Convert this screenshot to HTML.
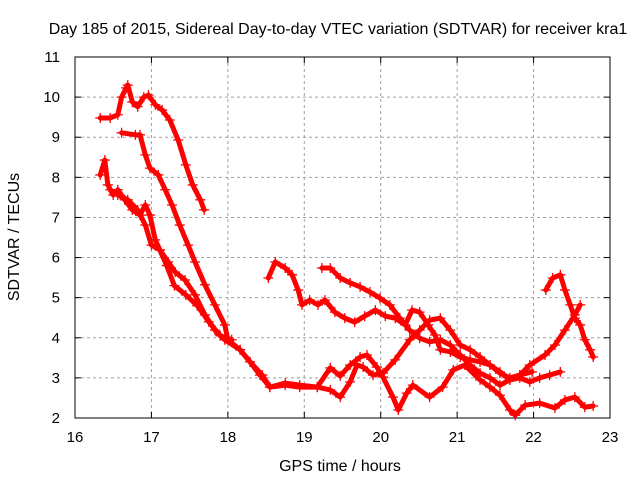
<!DOCTYPE html>
<html><head><meta charset="utf-8"><style>
body{margin:0;background:#fff;width:640px;height:480px;overflow:hidden}
svg text{font-family:"Liberation Sans",sans-serif;font-size:15px;fill:#000}
svg text.big{font-size:16px}
</style></head><body>
<svg id="chart" width="640" height="480" viewBox="0 0 640 480">
<text class="big" x="338" y="34" text-anchor="middle">Day 185 of 2015, Sidereal Day-to-day VTEC variation (SDTVAR) for receiver kra1</text>
<text class="big" x="340" y="471" text-anchor="middle">GPS time / hours</text>
<text class="big" transform="translate(19,237) rotate(-90)" text-anchor="middle">SDTVAR / TECUs</text>
<g id="grid"></g><g id="axes"></g><g id="series"></g>
</svg>
<script>
const xTicks=[16,17,18,19,20,21,22,23];
const yTicks=[2,3,4,5,6,7,8,9,10,11];
const s1h=[16.33,16.46,16.56,16.61,16.67,16.69,16.75,16.82,16.90,16.96,17.05,17.14,17.24,17.35,17.45,17.54,17.64,17.69];
const s1v=[9.48,9.48,9.56,10.0,10.23,10.30,9.88,9.76,10.0,10.05,9.81,9.68,9.43,8.93,8.31,7.81,7.44,7.19];
const s2h=[16.61,16.79,16.85,16.92,16.98,17.09,17.18,17.27,17.37,17.48,17.57,17.70,17.83,17.96,18.00,18.16,18.29,18.45,18.55,18.75,18.94,19.17,19.34,19.47,19.60,19.73,19.82,19.95,20.03,20.16,20.23,20.34,20.42,20.64,20.81,20.95,21.10,21.30,21.43,21.56,21.69,21.76,21.89,22.08,22.28,22.41,22.54,22.67,22.78];
const s2v=[9.11,9.06,9.06,8.56,8.23,8.06,7.69,7.31,6.81,6.31,5.89,5.32,4.82,4.32,3.95,3.70,3.40,3.07,2.77,2.87,2.82,2.77,3.25,3.05,3.32,3.52,3.57,3.27,3.02,2.52,2.20,2.62,2.82,2.52,2.77,3.20,3.32,2.95,2.77,2.57,2.20,2.07,2.32,2.37,2.25,2.45,2.52,2.27,2.30];
const s3h=[16.33,16.39,16.43,16.50,16.56,16.65,16.75,16.85,16.92,16.98,17.05,17.11,17.22,17.31,17.44,17.57,17.70,17.83,17.96,18.16,18.29,18.42,18.55,18.75,18.94,19.17,19.34,19.47,19.60,19.69,19.77,19.90,20.03,20.19,20.38,20.51,20.64,20.78,20.91,21.04,21.17,21.30,21.43,21.56,21.69,21.82,21.95,22.15,22.28,22.41,22.54,22.61];
const s3v=[8.06,8.43,7.81,7.56,7.69,7.44,7.19,7.06,7.31,7.06,6.44,6.19,5.89,5.64,5.44,5.07,4.57,4.19,3.95,3.70,3.40,3.07,2.77,2.82,2.77,2.77,2.70,2.52,2.90,3.32,3.27,3.07,3.12,3.45,3.95,4.19,4.44,4.49,4.19,3.82,3.70,3.52,3.32,3.15,2.95,3.07,3.32,3.57,3.82,4.19,4.57,4.82];
const s4h=[16.46,16.56,16.69,16.82,16.92,17.00,17.11,17.20,17.30,17.45,17.60,17.75,17.90,18.05];
const s4v=[7.69,7.56,7.44,7.19,6.81,6.31,6.19,5.80,5.30,5.07,4.80,4.40,4.05,3.95];
const s5h=[18.53,18.62,18.75,18.84,18.92,18.97,19.07,19.18,19.27,19.40,19.53,19.66,19.79,19.93,20.06,20.19,20.32,20.41,20.51,20.62,20.71,20.78,20.91,21.04,21.17,21.30,21.43,21.56,21.69,21.82,21.98];
const s5v=[5.49,5.89,5.74,5.57,5.19,4.82,4.94,4.82,4.94,4.64,4.49,4.39,4.54,4.69,4.54,4.49,4.32,4.69,4.64,4.32,4.07,3.70,3.65,3.52,3.45,3.40,3.32,3.12,3.00,3.07,3.15];
const s6h=[19.23,19.34,19.47,19.60,19.73,19.86,19.99,20.12,20.25,20.38,20.51,20.64,20.78,20.91,21.04,21.17,21.30,21.43,21.56,21.69,21.82,21.95,22.08,22.21,22.35];
const s6v=[5.74,5.74,5.49,5.37,5.27,5.14,4.99,4.82,4.49,4.19,3.99,3.90,3.95,3.82,3.57,3.32,3.12,3.00,2.82,2.95,3.00,2.90,3.00,3.07,3.15];
const s7h=[22.16,22.25,22.35,22.41,22.48,22.54,22.61,22.67,22.74,22.78];
const s7v=[5.19,5.49,5.57,5.19,4.82,4.49,4.32,3.95,3.70,3.52];
const allH=[s1h,s2h,s3h,s4h,s5h,s6h,s7h], allV=[s1v,s2v,s3v,s4v,s5v,s6v,s7v];
const L=75,R=610,T=57,B=418;
const X=h=>L+(h-16)/(23-16)*(R-L);
const Y=v=>B-(v-2)/(11-2)*(B-T);
const NS="http://www.w3.org/2000/svg";
function mk(tag,parent,attrs){const e=document.createElementNS(NS,tag);for(const k in attrs)e.setAttribute(k,attrs[k]);parent.appendChild(e);return e;}
const grid=document.getElementById('grid'),axes=document.getElementById('axes'),ser=document.getElementById('series');
xTicks.forEach(t=>{const x=X(t);
 if(t>16&&t<23){const g=mk('line',grid,{x1:x,x2:x,y1:T,y2:B,stroke:'#a0a0a0','stroke-dasharray':'3,3'});
 
 }
 mk('line',axes,{x1:x,x2:x,y1:B,y2:B-6,stroke:'#000'});mk('line',axes,{x1:x,x2:x,y1:T,y2:T+6,stroke:'#000'});
 const l=mk('text',axes,{x:x,y:442,'text-anchor':'middle'});l.textContent=t;
 
 });
yTicks.forEach(t=>{const y=Y(t);
 if(t>2&&t<11){const g=mk('line',grid,{x1:L,x2:R,y1:y,y2:y,stroke:'#a0a0a0','stroke-dasharray':'3,3'});
 
 }
 mk('line',axes,{x1:L,x2:L+6,y1:y,y2:y,stroke:'#000'});mk('line',axes,{x1:R,x2:R-6,y1:y,y2:y,stroke:'#000'});
 const l=mk('text',axes,{x:60,y:y+5,'text-anchor':'end'});l.textContent=t;
 
 });
const fr=mk('rect',axes,{x:L,y:T,width:R-L,height:B-T,fill:'none',stroke:'#000'});


allH.forEach((hs,i)=>{const vs=allV[i];
 const g=mk('g',ser,{});
 
 
 mk('polyline',g,{points:hs.map((h,j)=>X(h)+','+Y(vs[j])).join(' '),fill:'none',stroke:'#f00','stroke-width':5,'stroke-linejoin':'round','stroke-linecap':'round'});
 hs.forEach((h,j)=>{const x=X(h),y=Y(vs[j]);
  const p=mk('path',g,{d:`M${x-5},${y}H${x+5}M${x},${y-5}V${y+5}`,stroke:'#f00','stroke-width':1.3});
  
  });});
</script>
</body></html>
